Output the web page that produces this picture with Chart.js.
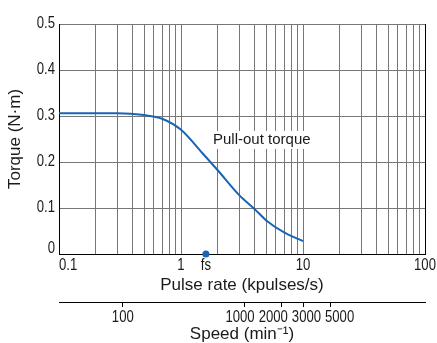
<!DOCTYPE html>
<html>
<head>
<meta charset="utf-8">
<script src="https://cdn.jsdelivr.net/npm/chart.js@4.4.1/dist/chart.umd.min.js"></script>
<style>
  html, body { margin: 0; padding: 0; background: #fff; }
  #wrap { width: 437px; height: 343px; }
</style>
</head>
<body>
<div id="wrap"><canvas id="torqueChart"></canvas></div>
<script>
// pull-out torque curve, pulse rate (kpulses/s) -> torque (N·m)
const pulseRate = [0.1, 0.2, 0.3, 0.5, 0.7, 1, 1.5, 2, 3, 4, 5, 7, 10];
const torque = [0.306, 0.306, 0.306, 0.302, 0.294, 0.27, 0.219, 0.182, 0.128, 0.098, 0.073, 0.047, 0.028];

// starting frequency marker
const fsRate = [1.6];
const fsTorque = [0];

const pulseTicks = [0.1, 0.2, 0.3, 0.4, 0.5, 0.6, 0.7, 0.8, 0.9,
                    1, 2, 3, 4, 5, 6, 7, 8, 9,
                    10, 20, 30, 40, 50, 60, 70, 80, 90, 100];
const pulseLabels = [0.1, 1, 10, 100];
const torqueTicks = [0, 0.1, 0.2, 0.3, 0.4, 0.5];
const speedTicks = [100, 1000, 2000, 3000, 5000];
const speedPerKpps = 300; // 200 steps/rev -> 1 kpulse/s = 300 min-1

const curveLabel = "Pull-out torque";
const curveLabelAt = [1.83, 0.248];

const BLUE = "#1a64b4";
const GRID = "#777777";
const INK = "#1a1a1a";
const SANS = "'Liberation Sans', Arial, sans-serif";
const TICK_FONT = `16px ${SANS}`;
const SQUEEZE = 0.82; // tick labels are set in a condensed face

function narrowText(ctx, text, x, y, align, baseline) {
    ctx.save();
    ctx.translate(x, y);
    ctx.scale(SQUEEZE, 1);
    ctx.textAlign = align;
    ctx.textBaseline = baseline;
    ctx.fillText(text, 0, 0);
    ctx.restore();
}

// crowded labels: a run that collides is laid side by side around the mean of its ticks
function spreadLabels(items, gap) {
    let groups = items.map(it => ({ items: [it] }));
    const layout = (g) => {
        const total = g.items.reduce((s, it) => s + it.w, 0) + gap * (g.items.length - 1);
        const mean = g.items.reduce((s, it) => s + it.px, 0) / g.items.length;
        let x = mean - total / 2;
        g.left = x;
        g.items.forEach(it => { it.cx = x + it.w / 2; x += it.w + gap; });
        g.right = x - gap;
    };
    groups.forEach(layout);
    let merged = true;
    while (merged) {
        merged = false;
        for (let i = 1; i < groups.length; i++) {
            if (groups[i].left < groups[i - 1].right + gap) {
                groups[i - 1].items = groups[i - 1].items.concat(groups[i].items);
                layout(groups[i - 1]);
                groups.splice(i, 1);
                merged = true;
                break;
            }
        }
    }
    return items;
}

const labelsPlugin = {
    id: "chartLabels",
    beforeDatasetsDraw(chart) {
        const { ctx, scales: { x, y } } = chart;
        ctx.save();
        ctx.font = `15px ${SANS}`;
        const px = x.getPixelForValue(curveLabelAt[0]);
        const py = y.getPixelForValue(curveLabelAt[1]);
        const w = ctx.measureText(curveLabel).width;
        ctx.fillStyle = "#fff";
        ctx.fillRect(px - 2, py - 9, w + 4, 18);
        ctx.fillStyle = INK;
        ctx.textAlign = "left";
        ctx.textBaseline = "middle";
        ctx.fillText(curveLabel, px, py);
        ctx.restore();
    },
    afterDraw(chart) {
        const { ctx, chartArea, scales: { x, y, speed } } = chart;
        ctx.save();
        ctx.font = TICK_FONT;
        ctx.fillStyle = INK;

        // torque ticks
        torqueTicks.forEach((v, i) => {
            const txt = v === 0 ? "0" : v.toFixed(1);
            const py = y.getPixelForValue(v);
            if (i === 0) narrowText(ctx, txt, chartArea.left - 4, py - 1, "right", "alphabetic");
            else narrowText(ctx, txt, chartArea.left - 4, py, "right", "middle");
        });

        // pulse rate ticks
        const xBase = chartArea.bottom + 16;
        pulseLabels.forEach((v, i) => {
            const px = x.getPixelForValue(v);
            narrowText(ctx, String(v), px, xBase, i === 0 ? "left" : "center", "alphabetic");
        });
        narrowText(ctx, "fs", x.getPixelForValue(fsRate[0]), xBase, "center", "alphabetic");

        // speed ticks
        const items = speedTicks.map(v => ({
            txt: String(v),
            px: speed.getPixelForValue(v),
            w: ctx.measureText(String(v)).width * SQUEEZE
        }));
        spreadLabels(items, 4).forEach(it => {
            narrowText(ctx, it.txt, it.cx, speed.top + 20, "center", "alphabetic");
        });
        ctx.restore();
    }
};

new Chart(document.getElementById("torqueChart"), {
    type: "line",
    data: {
        datasets: [
            {
                data: pulseRate.map((v, i) => ({ x: v, y: torque[i] })),
                borderColor: BLUE,
                borderWidth: 2,
                pointRadius: 0,
                cubicInterpolationMode: "monotone",
                fill: false
            },
            {
                data: fsRate.map((v, i) => ({ x: v, y: fsTorque[i] })),
                showLine: false,
                pointRadius: 3.5,
                pointBackgroundColor: BLUE,
                pointBorderWidth: 0,
                clip: false
            }
        ]
    },
    options: {
        responsive: true,
        maintainAspectRatio: false,
        animation: false,
        events: [],
        layout: { padding: { top: 24, right: 12, bottom: 0, left: 0 } },
        plugins: { legend: { display: false }, tooltip: { enabled: false } },
        scales: {
            x: {
                type: "logarithmic",
                position: "bottom",
                weight: 0,
                min: 0.1,
                max: 100,
                afterBuildTicks: (scale) => { scale.ticks = pulseTicks.map(v => ({ value: v })); },
                afterFit: (scale) => { scale.height = 48; },
                grid: {
                    color: (c) => (c.tick && c.tick.value === 100 ? "#000" : GRID),
                    lineWidth: 1,
                    drawTicks: false
                },
                border: { color: "#000", width: 1 },
                ticks: { display: false, autoSkip: false },
                title: {
                    display: true,
                    text: "Pulse rate (kpulses/s)",
                    color: INK,
                    font: { family: SANS, size: 17, lineHeight: 1 },
                    padding: { top: 0, bottom: 8 }
                }
            },
            speed: {
                type: "logarithmic",
                position: "bottom",
                weight: 1,
                min: pulseTicks[0] * speedPerKpps,
                max: pulseTicks[pulseTicks.length - 1] * speedPerKpps,
                afterBuildTicks: (scale) => { scale.ticks = speedTicks.map(v => ({ value: v })); },
                afterFit: (scale) => { scale.height = 41; },
                grid: {
                    drawOnChartArea: false,
                    drawTicks: true,
                    tickLength: 5,
                    color: "#000",
                    tickColor: "#000"
                },
                border: { color: "#000", width: 1 },
                ticks: { display: false, autoSkip: false },
                title: {
                    display: true,
                    text: "Speed (min⁻¹)",
                    color: INK,
                    font: { family: SANS, size: 17, lineHeight: 1 },
                    padding: { top: 0, bottom: 0 }
                }
            },
            y: {
                type: "linear",
                position: "left",
                min: 0,
                max: 0.5,
                afterBuildTicks: (scale) => { scale.ticks = torqueTicks.map(v => ({ value: v })); },
                afterFit: (scale) => { scale.width = 59; },
                grid: { color: GRID, lineWidth: 1, drawTicks: false },
                border: { color: "#000", width: 1 },
                ticks: { display: false },
                title: {
                    display: true,
                    text: "Torque (N·m)",
                    color: INK,
                    font: { family: SANS, size: 17, lineHeight: 1 },
                    padding: { top: 7, bottom: 0 }
                }
            }
        }
    },
    plugins: [labelsPlugin]
});
</script>
</body>
</html>
